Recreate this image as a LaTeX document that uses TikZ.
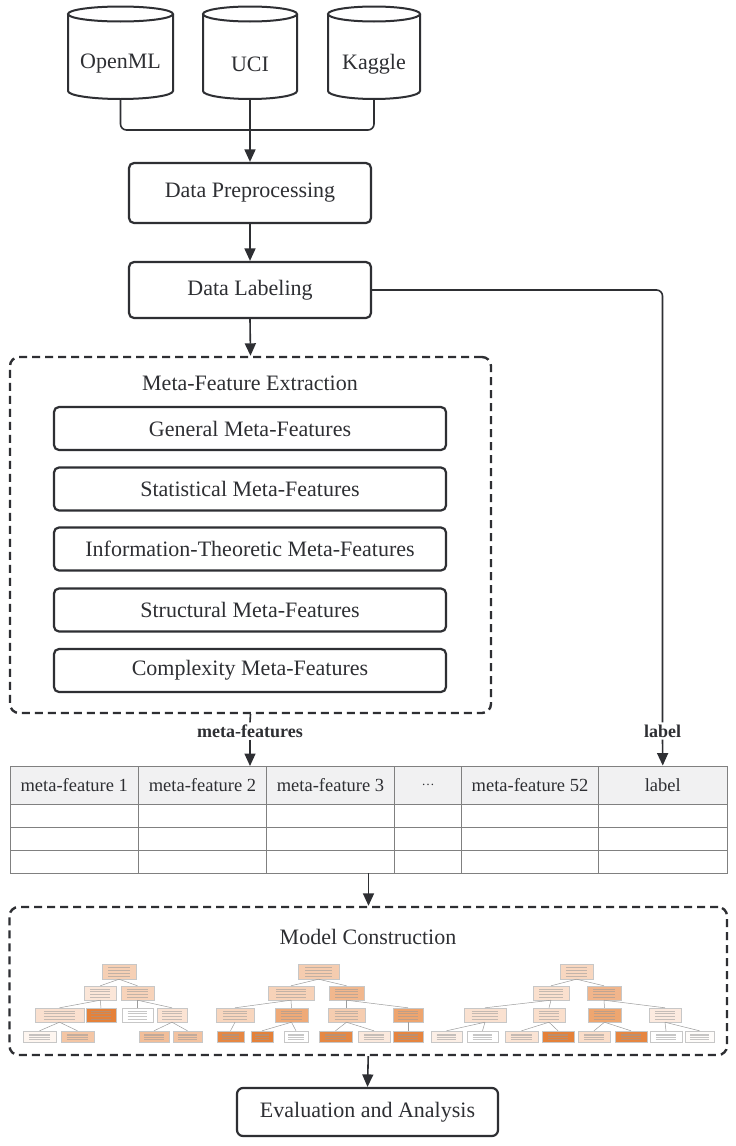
\documentclass[tikz,border=0pt]{standalone}
\usepackage{fontspec}
\setmainfont{Liberation Serif}
\usetikzlibrary{arrows.meta}
\definecolor{ink}{HTML}{2E2F33}
\definecolor{gridc}{HTML}{808080}
\definecolor{hdr}{HTML}{F1F1F2}
\definecolor{tline}{HTML}{9C9C9C}
\tikzset{
  lbl/.style={text=ink, font=\fontsize{22}{26}\selectfont, inner sep=1pt},
  cyl/.style={draw=ink, line width=2pt},
  procbox/.style={draw=ink, line width=2.2pt, rounded corners=5pt, text=ink,
     font=\fontsize{22}{26}\selectfont, inner sep=0pt},
  conn/.style={draw=ink, line width=1.6pt, rounded corners=6pt},
  arr/.style={conn, -{Triangle[length=12.5pt,width=11pt]}},
  dashbox/.style={draw=ink, line width=2.4pt, dash pattern=on 8pt off 5pt,
     rounded corners=9pt, inner sep=0pt},
  edgelbl/.style={text=ink, font=\bfseries\fontsize{18}{21}\selectfont, inner sep=2pt},
  hcell/.style={draw=gridc, line width=0.9pt, fill=hdr, minimum height=38pt,
     text=ink, font=\fontsize{18.5}{22}\selectfont, inner sep=0pt},
  gridln/.style={draw=gridc, line width=0.9pt},
  tbox/.style={draw=black!22, line width=0.4pt, inner sep=0pt},
  tedge/.style={draw=tline, line width=0.5pt},
  ttext/.style={draw=black!40, line width=0.5pt, opacity=0.55}
}
\begin{document}
\begin{tikzpicture}[x=1pt,y=-1pt]
\useasboundingbox[fill=white] (0,0) rectangle (736,1146);

% ---------- data sources (cylinders)
\foreach \cx/\rx/\nm/\txt in {120.5/52.5/openml/OpenML, 250/47/uci/UCI, 374/46/kaggle/Kaggle}{
  \draw[cyl, fill=white] (\cx-\rx,14) -- (\cx-\rx,91)
     arc[start angle=180,end angle=360,x radius=\rx pt,y radius=8pt] -- (\cx+\rx,14);
  \draw[cyl] (\cx,14) ellipse[x radius=\rx pt,y radius=7.5pt];
  \node[lbl] (\nm) at (\cx,64) {\txt};
  \coordinate (\nm b) at (\cx,99);
}
\coordinate (join) at (250,130);

% ---------- process boxes
\node[procbox, minimum width=242pt, minimum height=60pt] (dp) at (250,193) {Data Preprocessing};
\node[procbox, minimum width=242pt, minimum height=56pt] (dl) at (250,290) {Data Labeling};

% ---------- meta-feature extraction
\node[dashbox, minimum width=481pt, minimum height=356pt] (mfe) at (250.5,535) {};
\node[lbl] (mfet) at (250,383) {Meta-Feature Extraction};
\foreach \nm/\yy/\txt in {gen/428.5/General Meta-Features,
                          stat/489/Statistical Meta-Features,
                          info/549/Information-Theoretic Meta-Features,
                          struc/610/Structural Meta-Features,
                          comp/670.5/Complexity Meta-Features}{
  \node[procbox, minimum width=392pt, minimum height=43pt] (\nm) at (250,\yy) {\txt};
}

% ---------- edge labels
\node[edgelbl] (mflab) at (250,731) {meta-features};
\node[edgelbl] (lablab) at (662.5,731) {label};

% ---------- table
\node[hcell, minimum width=128.5pt] (h1) at (74.25,785) {meta-feature 1};
\node[hcell, minimum width=128pt]   (h2) at (202.5,785) {meta-feature 2};
\node[hcell, minimum width=128pt]   (h3) at (330.5,785) {meta-feature 3};
\node[hcell, minimum width=67pt]    (h4) at (428,785) {\fontsize{13}{15}\selectfont …};
\node[hcell, minimum width=137pt]   (h5) at (530,785) {meta-feature 52};
\node[hcell, minimum width=128.5pt] (h6) at (662.75,785) {label};
\draw[gridln] (10,804) rectangle (727,873);
\foreach \yy in {827,850} \draw[gridln] (10,\yy) -- (727,\yy);
\foreach \xx in {138.5,266.5,394.5,461.5,598.5} \draw[gridln] (\xx,804) -- (\xx,873);
\coordinate (mfin) at (250,766);
\coordinate (tblbot) at (368.5,873);

% ---------- model construction
\node[dashbox, minimum width=717.5pt, minimum height=148pt] (mc) at (368.25,981) {};
\node[lbl] (mct) at (368,937) {Model Construction};

% decision trees (thumbnails)
\foreach \n/\xa/\xb/\ya/\yb/\col in {
  t1r/102/136/964/979/F6D0B5, t1a/84.5/116/986/1000/FBE6D8, t1b/121/154/986/1000/F7D3BA,
  t1c/35/84/1008/1022/FAE0CF, t1d/86/116/1008/1022/E58139, t1e/122/153/1008/1022/FFFFFF,
  t1f/157/187/1008/1022/FBE3D3, t1g/23/56/1031/1042/FEF6F0, t1h/61/94/1031/1042/F4C6A5,
  t1i/139/169/1031/1042/F2BE99, t1j/173/202/1031/1042/F3C3A1,
  t2r/298/339/964/979/F5CCAF, t2a/268/314/986/1000/F7D2B8, t2b/329/364/986/1000/F1B78D,
  t2c/216/254/1008/1022/F8D6BE, t2d/275/308/1008/1022/EFAA78, t2e/328/365/1008/1022/F6CDB0,
  t2f/393/423/1008/1022/EEA56F, t2g/217/244/1031/1042/E68743, t2h/251/273/1031/1042/E58139,
  t2i/284/308/1031/1042/FFFFFF, t2j/319/352/1031/1042/E68844, t2k/358/390/1031/1042/FBE9DD,
  t2l/393/423/1031/1042/E68540,
  t3r/560/593/964/979/F8D7C0, t3a/533/569/986/1000/FAE0CE, t3b/587/621/986/1000/F1B58B,
  t3c/464/506/1008/1022/FAE1D0, t3d/533/565/1008/1022/FADFCC, t3e/588/621/1008/1022/EEA670,
  t3f/649/681/1008/1022/FCEADF, t3g/431/462/1031/1042/FCEFE6, t3h/467/498/1031/1042/FFFFFF,
  t3i/505/538/1031/1042/FBE4D4, t3j/542/574/1031/1042/E58139, t3k/578/610/1031/1042/FADDC9,
  t3l/615/647/1031/1042/E68641, t3m/650/682/1031/1042/FFFFFF, t3n/685/714/1031/1042/FEFCFA}{
  \definecolor{tmpc}{HTML}{\col}
  \node[tbox, fill=tmpc, minimum width={\xb pt-\xa pt}, minimum height={\yb pt-\ya pt}]
     (\n) at ({(\xa+\xb)/2},{(\ya+\yb)/2}) {};
  % faint strokes standing for the unreadable node text
  \pgfmathsetmacro{\tl}{\xa+0.18*(\xb-\xa)}
  \pgfmathsetmacro{\tr}{\xb-0.18*(\xb-\xa)}
  \pgfmathsetmacro{\tt}{\ya+3.2}
  \pgfmathsetmacro{\tst}{(\yb-\ya-6.4)/3}
  \foreach \k in {0,1,2,3}
    \draw[ttext] (\tl,\tt+\k*\tst) -- (\tr,\tt+\k*\tst);
}
\foreach \p/\c in {t1r/t1a,t1r/t1b,t1a/t1c,t1a/t1d,t1b/t1e,t1b/t1f,t1c/t1g,t1c/t1h,t1f/t1i,t1f/t1j,
  t2r/t2a,t2r/t2b,t2a/t2c,t2a/t2d,t2b/t2e,t2b/t2f,t2c/t2g,t2d/t2h,t2d/t2i,t2e/t2j,t2e/t2k,t2f/t2l,
  t3r/t3a,t3r/t3b,t3a/t3c,t3a/t3d,t3b/t3e,t3b/t3f,t3c/t3g,t3c/t3h,t3d/t3i,t3d/t3j,t3e/t3k,t3e/t3l,
  t3f/t3m,t3f/t3n}
  \draw[tedge] (\p.south) -- (\c.north);

% ---------- evaluation
\node[procbox, minimum width=261pt, minimum height=48pt, rounded corners=6pt] (ev) at (367.5,1112) {Evaluation and Analysis};

% ---------- connectors
\draw[conn] (openmlb) |- (join);
\draw[conn] (kaggleb) |- (join);
\draw[arr] (ucib) -- (dp.north);
\draw[arr] (dp.south) -- (dl.north);
\draw[arr] (dl.south) -- (mfe.north);
\draw[conn] (dl.east) -| (lablab.north);
\draw[arr] (lablab.south) -- (h6.north);
\draw[conn] (mfe.south) -- (mflab.north);
\draw[arr] (mflab.south) -- (mfin);
\draw[arr] (tblbot) -- (tblbot |- mc.north);
\draw[arr] (mc.south) -- (ev.north);
\end{tikzpicture}
\end{document}
